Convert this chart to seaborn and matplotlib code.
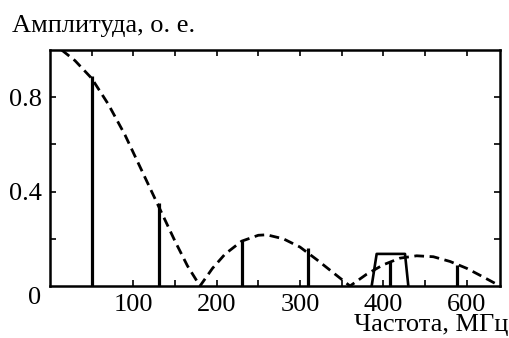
import numpy as np
import pandas as pd
import seaborn as sns
import matplotlib.pyplot as plt

# envelope (dashed)
env_f = [14, 30, 50, 70, 90, 110, 130, 150, 165, 180, 195, 210, 230, 250, 260,
         280, 300, 320, 340, 360, 380, 400, 420, 440, 460, 480, 500, 520, 540]
env_a = [1.0, 0.955, 0.88, 0.77, 0.64, 0.49, 0.34, 0.19, 0.085, 0.0, 0.075, 0.135,
         0.19, 0.215, 0.217, 0.2, 0.165, 0.112, 0.056, 0.0, 0.05, 0.09, 0.118,
         0.128, 0.124, 0.104, 0.075, 0.038, 0.0]

# spectral lines
line_f = [50, 131, 231, 310, 408, 489]
line_a = [0.89, 0.35, 0.19, 0.16, 0.10, 0.09]

# trapezoid (band) outline
band_f = [386, 392, 426, 430]
band_a = [0.0, 0.136, 0.136, 0.0]

xtick_pos = [100, 200, 300, 400, 500]
xtick_lab = ["100", "200", "300", "400", "600"]

sns.set_style("ticks", {"axes.edgecolor": "black", "xtick.color": "black",
                        "ytick.color": "black", "text.color": "black"})
plt.rcParams['font.family'] = ['Liberation Serif', 'DejaVu Serif']

fig = plt.figure(figsize=(5.1, 3.38), dpi=100)
ax = fig.add_axes([50 / 510, 52 / 338, 450 / 510, 236 / 338])

env = pd.DataFrame({"f": env_f, "a": env_a})
sns.lineplot(data=env, x="f", y="a", ax=ax, color="black", lw=2.0,
             dashes=False, linestyle=(0, (3.5, 2.0)))

ax.vlines(line_f, 0, line_a, color="black", lw=2.3)

band = pd.DataFrame({"f": band_f, "a": band_a})
sns.lineplot(data=band, x="f", y="a", ax=ax, color="black", lw=1.9, sort=False,
             estimator=None)

ax.set_xlim(0, 540)
ax.set_ylim(0, 1.0)
ax.set(xlabel=None, ylabel=None)

ticks_x = np.arange(50, 540, 50)
ax.set_xticks(ticks_x)
ax.set_xticklabels(["" if t not in xtick_pos else xtick_lab[xtick_pos.index(t)]
                    for t in ticks_x])
ax.set_yticks([0.2, 0.4, 0.6, 0.8])
ax.set_yticklabels(["", "0.4", "", "0.8"])

ax.tick_params(direction="in", length=4.5, width=1.2, top=True, right=True,
               labelsize=19, pad=6, colors="black")
for s in ax.spines.values():
    s.set_linewidth(1.8)
    s.set_color("black")
    s.set_visible(True)

fig.text(35 / 510, 1 - 298 / 338, "0", fontsize=19, ha="center", va="center")
fig.text(12 / 510, 1 - 32 / 338, "Амплитуда, о. е.", fontsize=19,
         ha="left", va="baseline")
fig.text(508 / 510, 1 - 331 / 338, "Частота, МГц", fontsize=19,
         ha="right", va="baseline")

plt.savefig("out.png", dpi=100)
